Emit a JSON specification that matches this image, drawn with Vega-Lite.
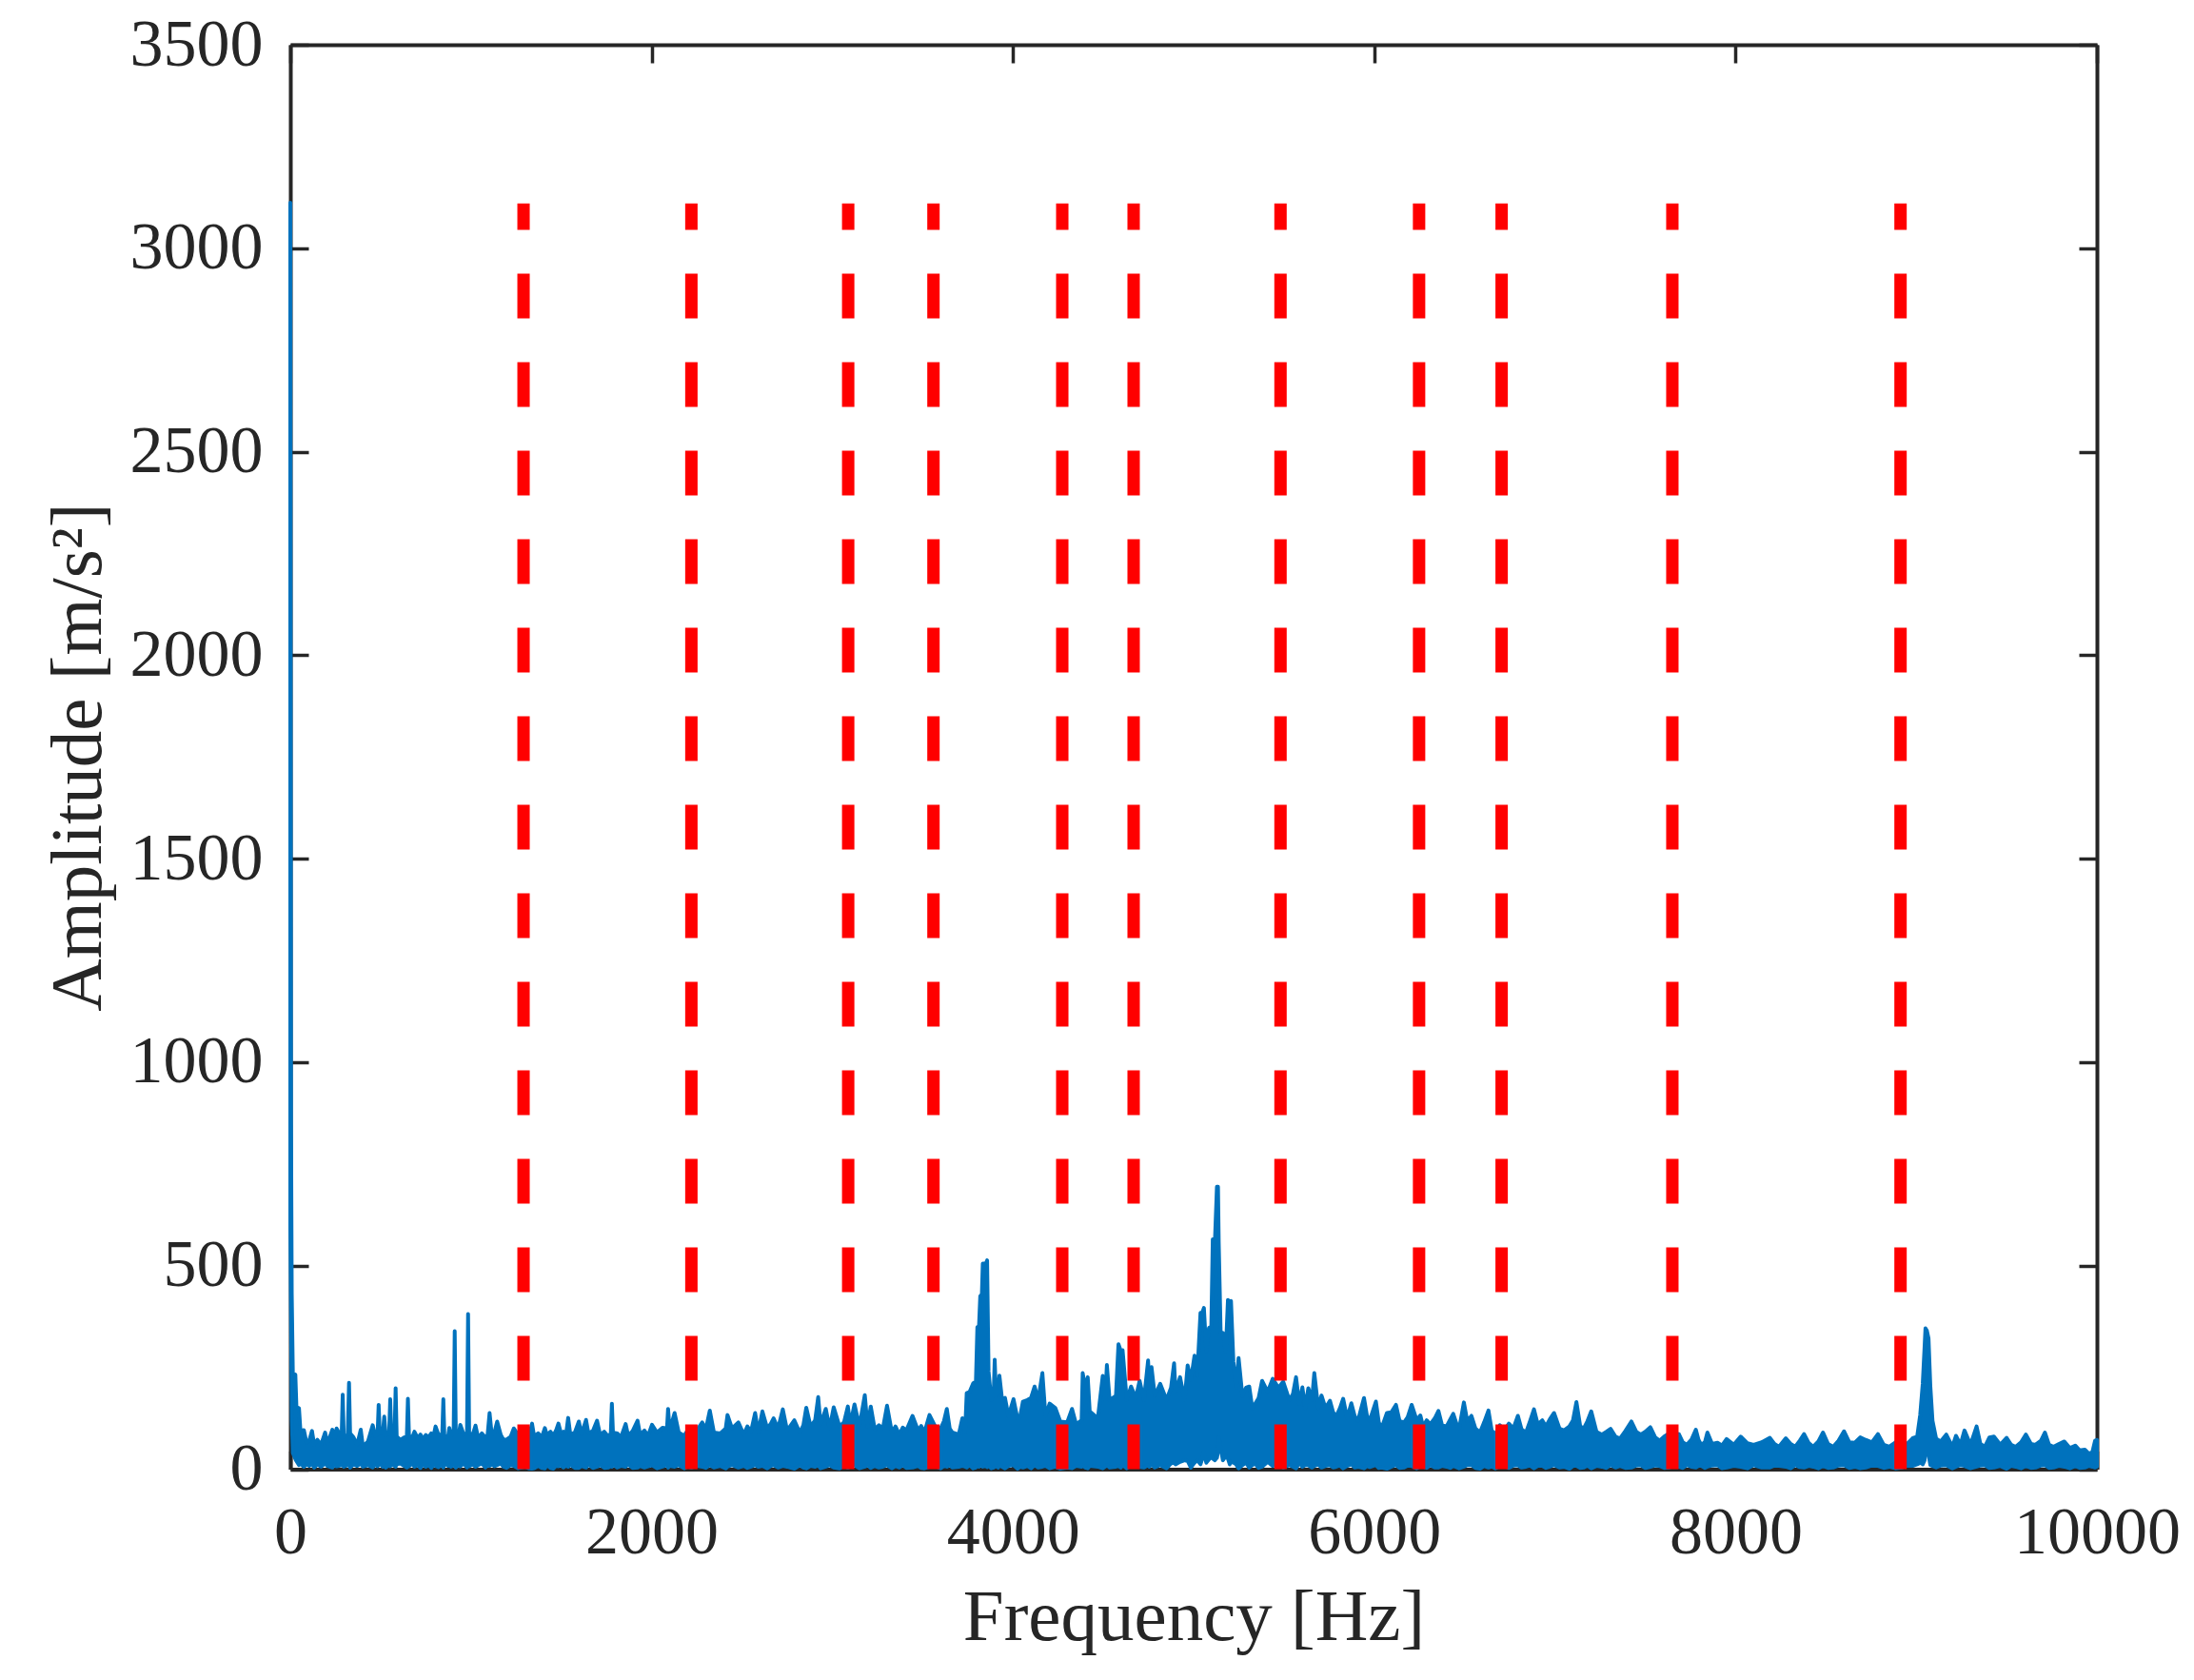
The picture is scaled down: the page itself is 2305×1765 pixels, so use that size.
{"$schema":"https://vega.github.io/schema/vega-lite/v6.json","width":1898,"height":1496.5,"autosize":{"type":"none"},"padding":{"left":305,"top":47,"right":102,"bottom":221.5},"background":"white","config":{"view":{"stroke":null},"axis":{"grid":false,"domainColor":"#262626","domainWidth":4,"tickColor":"#262626","tickWidth":3.5,"tickSize":-19,"labelFont":"Liberation Serif","titleFont":"Liberation Serif","labelFontSize":70,"titleFontSize":77,"labelColor":"#262626","titleColor":"#262626","titleFontWeight":"normal","labelFlush":false,"labelOverlap":false,"labelLimit":400,"format":"d"}},"layer":[{"data":{"values":[{"f":0,"h":3112,"l":600},{"f":4,"h":860,"l":380},{"f":8,"h":430,"l":120},{"f":14,"h":236,"l":40},{"f":28,"h":232,"l":25},{"f":34,"h":152,"l":20},{"f":48,"h":150,"l":10},{"f":56,"h":95,"l":14},{"f":75,"h":96,"l":6},{"f":90,"h":65,"l":12},{"f":105,"h":70,"l":8},{"f":120,"h":94,"l":14},{"f":132,"h":60,"l":4},{"f":150,"h":72,"l":12},{"f":170,"h":60,"l":6},{"f":193,"h":90,"l":14},{"f":205,"h":62,"l":8},{"f":233,"h":97,"l":4},{"f":245,"h":70,"l":12},{"f":256,"h":100,"l":7},{"f":284,"h":78,"l":10},{"f":290,"h":183,"l":12},{"f":296,"h":80,"l":6},{"f":318,"h":85,"l":10},{"f":325,"h":212,"l":14},{"f":331,"h":88,"l":4},{"f":350,"h":78,"l":12},{"f":370,"h":60,"l":8},{"f":390,"h":97,"l":14},{"f":402,"h":55,"l":6},{"f":430,"h":68,"l":10},{"f":456,"h":108,"l":4},{"f":470,"h":82,"l":12},{"f":483,"h":85,"l":7},{"f":489,"h":158,"l":10},{"f":495,"h":90,"l":14},{"f":512,"h":88,"l":6},{"f":520,"h":129,"l":12},{"f":528,"h":84,"l":4},{"f":547,"h":88,"l":10},{"f":553,"h":172,"l":7},{"f":559,"h":85,"l":12},{"f":577,"h":86,"l":8},{"f":583,"h":199,"l":6},{"f":589,"h":80,"l":12},{"f":610,"h":72,"l":14},{"f":630,"h":78,"l":8},{"f":645,"h":80,"l":4},{"f":651,"h":173,"l":12},{"f":657,"h":82,"l":7},{"f":675,"h":78,"l":14},{"f":687,"h":92,"l":6},{"f":705,"h":76,"l":10},{"f":720,"h":85,"l":3},{"f":735,"h":74,"l":12},{"f":750,"h":84,"l":6},{"f":765,"h":78,"l":10},{"f":780,"h":88,"l":3},{"f":792,"h":80,"l":10},{"f":804,"h":105,"l":8},{"f":820,"h":85,"l":5},{"f":841,"h":85,"l":12},{"f":847,"h":172,"l":4},{"f":853,"h":78,"l":14},{"f":874,"h":82,"l":8},{"f":880,"h":101,"l":10},{"f":890,"h":84,"l":6},{"f":904,"h":86,"l":10},{"f":910,"h":339,"l":8},{"f":916,"h":88,"l":4},{"f":935,"h":92,"l":12},{"f":941,"h":109,"l":7},{"f":960,"h":85,"l":14},{"f":978,"h":88,"l":4},{"f":984,"h":381,"l":10},{"f":990,"h":88,"l":7},{"f":1010,"h":85,"l":12},{"f":1025,"h":107,"l":6},{"f":1040,"h":76,"l":10},{"f":1060,"h":88,"l":14},{"f":1080,"h":78,"l":4},{"f":1092,"h":84,"l":10},{"f":1103,"h":138,"l":8},{"f":1115,"h":85,"l":12},{"f":1130,"h":90,"l":7},{"f":1145,"h":117,"l":10},{"f":1165,"h":84,"l":14},{"f":1180,"h":72,"l":6},{"f":1197,"h":73,"l":3},{"f":1220,"h":80,"l":10},{"f":1237,"h":100,"l":8},{"f":1260,"h":85,"l":2},{"f":1300,"h":92,"l":6},{"f":1320,"h":78,"l":2},{"f":1338,"h":112,"l":1},{"f":1350,"h":80,"l":2},{"f":1372,"h":88,"l":8},{"f":1392,"h":78,"l":3},{"f":1409,"h":101,"l":2},{"f":1420,"h":84,"l":10},{"f":1440,"h":92,"l":3},{"f":1455,"h":82,"l":1},{"f":1470,"h":94,"l":8},{"f":1484,"h":112,"l":7},{"f":1498,"h":88,"l":10},{"f":1512,"h":92,"l":4},{"f":1526,"h":84,"l":9},{"f":1538,"h":126,"l":6},{"f":1550,"h":85,"l":11},{"f":1575,"h":90,"l":3},{"f":1597,"h":117,"l":3},{"f":1612,"h":86,"l":8},{"f":1637,"h":121,"l":4},{"f":1650,"h":88,"l":12},{"f":1675,"h":94,"l":3},{"f":1698,"h":119,"l":6},{"f":1715,"h":84,"l":10},{"f":1738,"h":92,"l":3},{"f":1760,"h":80,"l":4},{"f":1774,"h":88,"l":8},{"f":1780,"h":161,"l":6},{"f":1786,"h":90,"l":12},{"f":1810,"h":88,"l":4},{"f":1830,"h":78,"l":8},{"f":1856,"h":111,"l":6},{"f":1870,"h":82,"l":12},{"f":1895,"h":94,"l":3},{"f":1922,"h":119,"l":4},{"f":1936,"h":85,"l":8},{"f":1960,"h":95,"l":4},{"f":1980,"h":82,"l":7},{"f":2002,"h":109,"l":10},{"f":2030,"h":90,"l":2},{"f":2060,"h":102,"l":6},{"f":2085,"h":100,"l":10},{"f":2091,"h":148,"l":4},{"f":2100,"h":95,"l":8},{"f":2127,"h":138,"l":6},{"f":2150,"h":90,"l":10},{"f":2180,"h":82,"l":2},{"f":2200,"h":96,"l":7},{"f":2220,"h":90,"l":4},{"f":2250,"h":95,"l":8},{"f":2280,"h":115,"l":6},{"f":2300,"h":98,"l":3},{"f":2322,"h":144,"l":10},{"f":2345,"h":90,"l":4},{"f":2380,"h":88,"l":8},{"f":2410,"h":100,"l":2},{"f":2420,"h":133,"l":6},{"f":2445,"h":100,"l":10},{"f":2480,"h":115,"l":4},{"f":2510,"h":85,"l":8},{"f":2530,"h":105,"l":3},{"f":2550,"h":92,"l":6},{"f":2573,"h":138,"l":10},{"f":2590,"h":90,"l":6},{"f":2613,"h":142,"l":8},{"f":2640,"h":100,"l":2},{"f":2660,"h":112,"l":8},{"f":2675,"h":125,"l":10},{"f":2700,"h":100,"l":4},{"f":2726,"h":147,"l":8},{"f":2750,"h":95,"l":6},{"f":2790,"h":120,"l":1},{"f":2820,"h":90,"l":10},{"f":2840,"h":108,"l":4},{"f":2856,"h":151,"l":2},{"f":2880,"h":105,"l":8},{"f":2905,"h":120,"l":6},{"f":2922,"h":177,"l":10},{"f":2935,"h":110,"l":2},{"f":2964,"h":148,"l":6},{"f":2985,"h":100,"l":10},{"f":3008,"h":152,"l":4},{"f":3040,"h":105,"l":2},{"f":3065,"h":115,"l":8},{"f":3086,"h":154,"l":4},{"f":3100,"h":110,"l":6},{"f":3123,"h":159,"l":10},{"f":3150,"h":105,"l":2},{"f":3180,"h":182,"l":6},{"f":3195,"h":105,"l":10},{"f":3213,"h":154,"l":3},{"f":3235,"h":98,"l":8},{"f":3258,"h":108,"l":4},{"f":3280,"h":100,"l":6},{"f":3303,"h":156,"l":10},{"f":3330,"h":90,"l":2},{"f":3350,"h":105,"l":8},{"f":3370,"h":85,"l":4},{"f":3390,"h":102,"l":10},{"f":3410,"h":95,"l":3},{"f":3444,"h":131,"l":4},{"f":3475,"h":95,"l":8},{"f":3492,"h":106,"l":3},{"f":3510,"h":90,"l":2},{"f":3538,"h":133,"l":6},{"f":3570,"h":105,"l":8},{"f":3600,"h":100,"l":2},{"f":3618,"h":118,"l":8},{"f":3634,"h":148,"l":6},{"f":3650,"h":100,"l":10},{"f":3665,"h":90,"l":4},{"f":3700,"h":85,"l":6},{"f":3720,"h":125,"l":8},{"f":3735,"h":90,"l":6},{"f":3744,"h":187,"l":4},{"f":3760,"h":190,"l":10},{"f":3780,"h":211,"l":2},{"f":3795,"h":215,"l":4},{"f":3803,"h":349,"l":8},{"f":3812,"h":350,"l":6},{"f":3819,"h":425,"l":10},{"f":3828,"h":430,"l":12},{"f":3833,"h":505,"l":6},{"f":3850,"h":505,"l":8},{"f":3857,"h":513,"l":5},{"f":3865,"h":240,"l":10},{"f":3880,"h":170,"l":2},{"f":3893,"h":180,"l":4},{"f":3899,"h":269,"l":6},{"f":3906,"h":180,"l":8},{"f":3918,"h":190,"l":4},{"f":3925,"h":230,"l":10},{"f":3940,"h":170,"l":6},{"f":3956,"h":175,"l":2},{"f":3975,"h":130,"l":8},{"f":4003,"h":172,"l":10},{"f":4025,"h":125,"l":1},{"f":4040,"h":130,"l":6},{"f":4055,"h":166,"l":4},{"f":4080,"h":170,"l":8},{"f":4100,"h":175,"l":2},{"f":4120,"h":203,"l":10},{"f":4140,"h":170,"l":4},{"f":4163,"h":236,"l":6},{"f":4180,"h":130,"l":8},{"f":4203,"h":161,"l":2},{"f":4235,"h":150,"l":6},{"f":4262,"h":117,"l":1},{"f":4300,"h":115,"l":4},{"f":4327,"h":148,"l":2},{"f":4350,"h":110,"l":8},{"f":4380,"h":120,"l":6},{"f":4386,"h":236,"l":10},{"f":4400,"h":200,"l":4},{"f":4414,"h":226,"l":2},{"f":4425,"h":142,"l":8},{"f":4470,"h":125,"l":6},{"f":4497,"h":229,"l":2},{"f":4510,"h":170,"l":6},{"f":4520,"h":256,"l":10},{"f":4535,"h":170,"l":4},{"f":4570,"h":180,"l":6},{"f":4584,"h":307,"l":8},{"f":4597,"h":290,"l":4},{"f":4607,"h":292,"l":10},{"f":4630,"h":170,"l":2},{"f":4654,"h":203,"l":12},{"f":4680,"h":175,"l":8},{"f":4701,"h":217,"l":6},{"f":4725,"h":170,"l":4},{"f":4748,"h":267,"l":10},{"f":4755,"h":200,"l":6},{"f":4767,"h":251,"l":12},{"f":4785,"h":180,"l":4},{"f":4815,"h":210,"l":10},{"f":4850,"h":170,"l":2},{"f":4875,"h":200,"l":14},{"f":4892,"h":260,"l":16},{"f":4900,"h":190,"l":12},{"f":4925,"h":226,"l":18},{"f":4950,"h":170,"l":22},{"f":4967,"h":255,"l":20},{"f":4985,"h":220,"l":4},{"f":5005,"h":279,"l":16},{"f":5020,"h":230,"l":22},{"f":5038,"h":384,"l":12},{"f":5048,"h":385,"l":26},{"f":5057,"h":396,"l":42},{"f":5070,"h":290,"l":16},{"f":5085,"h":347,"l":24},{"f":5098,"h":350,"l":32},{"f":5106,"h":565,"l":26},{"f":5118,"h":560,"l":22},{"f":5129,"h":694,"l":28},{"f":5135,"h":694,"l":42},{"f":5139,"h":558,"l":78},{"f":5150,"h":330,"l":52},{"f":5162,"h":335,"l":22},{"f":5178,"h":290,"l":32},{"f":5190,"h":416,"l":26},{"f":5200,"h":410,"l":12},{"f":5207,"h":413,"l":18},{"f":5220,"h":265,"l":16},{"f":5235,"h":200,"l":12},{"f":5249,"h":273,"l":2},{"f":5270,"h":180,"l":10},{"f":5290,"h":200,"l":16},{"f":5308,"h":203,"l":4},{"f":5325,"h":150,"l":10},{"f":5340,"h":160,"l":14},{"f":5360,"h":175,"l":3},{"f":5379,"h":217,"l":6},{"f":5410,"h":190,"l":18},{"f":5438,"h":222,"l":8},{"f":5470,"h":200,"l":12},{"f":5496,"h":215,"l":4},{"f":5530,"h":170,"l":10},{"f":5550,"h":185,"l":6},{"f":5567,"h":226,"l":2},{"f":5585,"h":160,"l":16},{"f":5602,"h":201,"l":6},{"f":5618,"h":150,"l":10},{"f":5635,"h":199,"l":10},{"f":5655,"h":170,"l":4},{"f":5668,"h":236,"l":8},{"f":5690,"h":150,"l":12},{"f":5708,"h":181,"l":4},{"f":5730,"h":150,"l":8},{"f":5755,"h":168,"l":10},{"f":5772,"h":140,"l":4},{"f":5790,"h":130,"l":6},{"f":5810,"h":150,"l":9},{"f":5828,"h":173,"l":2},{"f":5850,"h":125,"l":8},{"f":5873,"h":162,"l":12},{"f":5892,"h":130,"l":4},{"f":5910,"h":120,"l":6},{"f":5943,"h":175,"l":2},{"f":5960,"h":130,"l":8},{"f":5975,"h":120,"l":5},{"f":6009,"h":166,"l":10},{"f":6025,"h":115,"l":3},{"f":6040,"h":100,"l":4},{"f":6070,"h":138,"l":1},{"f":6095,"h":140,"l":6},{"f":6120,"h":158,"l":10},{"f":6140,"h":118,"l":3},{"f":6165,"h":115,"l":4},{"f":6185,"h":128,"l":9},{"f":6207,"h":158,"l":8},{"f":6235,"h":120,"l":2},{"f":6255,"h":132,"l":8},{"f":6270,"h":105,"l":6},{"f":6290,"h":120,"l":3},{"f":6310,"h":110,"l":10},{"f":6335,"h":125,"l":4},{"f":6355,"h":143,"l":4},{"f":6375,"h":108,"l":8},{"f":6400,"h":105,"l":6},{"f":6420,"h":122,"l":3},{"f":6437,"h":136,"l":8},{"f":6455,"h":112,"l":5},{"f":6470,"h":100,"l":2},{"f":6496,"h":164,"l":6},{"f":6515,"h":118,"l":10},{"f":6538,"h":131,"l":10},{"f":6560,"h":100,"l":3},{"f":6585,"h":90,"l":1},{"f":6608,"h":115,"l":8},{"f":6632,"h":144,"l":4},{"f":6650,"h":95,"l":7},{"f":6670,"h":85,"l":2},{"f":6695,"h":108,"l":8},{"f":6720,"h":95,"l":8},{"f":6745,"h":112,"l":3},{"f":6770,"h":100,"l":9},{"f":6795,"h":131,"l":10},{"f":6815,"h":98,"l":4},{"f":6840,"h":90,"l":6},{"f":6862,"h":118,"l":9},{"f":6884,"h":147,"l":2},{"f":6905,"h":110,"l":8},{"f":6930,"h":120,"l":8},{"f":6950,"h":105,"l":3},{"f":6975,"h":125,"l":7},{"f":6995,"h":138,"l":10},{"f":7025,"h":100,"l":4},{"f":7050,"h":95,"l":6},{"f":7080,"h":105,"l":1},{"f":7100,"h":120,"l":8},{"f":7119,"h":165,"l":8},{"f":7140,"h":105,"l":3},{"f":7160,"h":100,"l":4},{"f":7180,"h":118,"l":9},{"f":7201,"h":142,"l":2},{"f":7230,"h":92,"l":8},{"f":7260,"h":85,"l":6},{"f":7285,"h":92,"l":3},{"f":7308,"h":99,"l":10},{"f":7335,"h":80,"l":4},{"f":7360,"h":75,"l":8},{"f":7390,"h":94,"l":3},{"f":7423,"h":117,"l":4},{"f":7450,"h":92,"l":9},{"f":7475,"h":85,"l":10},{"f":7500,"h":92,"l":3},{"f":7528,"h":103,"l":6},{"f":7555,"h":78,"l":9},{"f":7580,"h":70,"l":8},{"f":7605,"h":80,"l":3},{"f":7630,"h":87,"l":4},{"f":7660,"h":70,"l":8},{"f":7686,"h":86,"l":6},{"f":7708,"h":66,"l":3},{"f":7730,"h":60,"l":10},{"f":7755,"h":72,"l":6},{"f":7780,"h":97,"l":4},{"f":7795,"h":72,"l":8},{"f":7810,"h":60,"l":8},{"f":7830,"h":66,"l":3},{"f":7844,"h":90,"l":6},{"f":7870,"h":62,"l":9},{"f":7900,"h":65,"l":10},{"f":7925,"h":58,"l":2},{"f":7950,"h":74,"l":4},{"f":7990,"h":60,"l":8},{"f":8028,"h":80,"l":6},{"f":8065,"h":64,"l":2},{"f":8100,"h":60,"l":10},{"f":8145,"h":66,"l":4},{"f":8190,"h":77,"l":4},{"f":8215,"h":62,"l":9},{"f":8240,"h":55,"l":8},{"f":8278,"h":76,"l":6},{"f":8305,"h":62,"l":2},{"f":8330,"h":55,"l":10},{"f":8355,"h":70,"l":5},{"f":8379,"h":86,"l":4},{"f":8405,"h":64,"l":8},{"f":8430,"h":55,"l":6},{"f":8458,"h":68,"l":2},{"f":8484,"h":90,"l":8},{"f":8512,"h":62,"l":3},{"f":8540,"h":55,"l":4},{"f":8570,"h":70,"l":9},{"f":8600,"h":93,"l":10},{"f":8630,"h":66,"l":3},{"f":8660,"h":65,"l":6},{"f":8690,"h":78,"l":2},{"f":8720,"h":72,"l":4},{"f":8755,"h":66,"l":9},{"f":8788,"h":86,"l":8},{"f":8820,"h":60,"l":3},{"f":8850,"h":55,"l":6},{"f":8885,"h":66,"l":2},{"f":8920,"h":70,"l":4},{"f":8950,"h":62,"l":9},{"f":8980,"h":76,"l":8},{"f":9005,"h":80,"l":12},{"f":9022,"h":134,"l":16},{"f":9036,"h":210,"l":12},{"f":9046,"h":300,"l":22},{"f":9051,"h":346,"l":42},{"f":9059,"h":340,"l":42},{"f":9068,"h":321,"l":36},{"f":9078,"h":204,"l":10},{"f":9090,"h":119,"l":8},{"f":9110,"h":75,"l":4},{"f":9135,"h":68,"l":9},{"f":9166,"h":85,"l":10},{"f":9200,"h":55,"l":2},{"f":9220,"h":82,"l":6},{"f":9245,"h":60,"l":10},{"f":9267,"h":95,"l":8},{"f":9300,"h":60,"l":2},{"f":9334,"h":105,"l":6},{"f":9355,"h":62,"l":9},{"f":9380,"h":55,"l":10},{"f":9405,"h":78,"l":3},{"f":9430,"h":80,"l":4},{"f":9465,"h":60,"l":8},{"f":9500,"h":77,"l":1},{"f":9525,"h":60,"l":8},{"f":9550,"h":55,"l":6},{"f":9580,"h":66,"l":2},{"f":9607,"h":85,"l":8},{"f":9635,"h":62,"l":3},{"f":9660,"h":60,"l":4},{"f":9690,"h":70,"l":9},{"f":9712,"h":90,"l":10},{"f":9735,"h":60,"l":3},{"f":9760,"h":55,"l":4},{"f":9790,"h":62,"l":8},{"f":9820,"h":68,"l":6},{"f":9850,"h":52,"l":2},{"f":9880,"h":58,"l":8},{"f":9905,"h":46,"l":3},{"f":9933,"h":48,"l":4},{"f":9955,"h":38,"l":8},{"f":9975,"h":42,"l":6},{"f":9990,"h":70,"l":4},{"f":10000,"h":72,"l":6}]},"mark":{"type":"area","fill":"#0072BD","stroke":"#0072BD","strokeWidth":4,"strokeJoin":"round","opacity":1},"encoding":{"x":{"field":"f","type":"quantitative","scale":{"domain":[0,10000],"nice":false},"axis":{"orient":"bottom","values":[0,2000,4000,6000,8000,10000],"title":"Frequency [Hz]","labelPadding":52,"titlePadding":16}},"y":{"field":"h","type":"quantitative","scale":{"domain":[0,3500],"nice":false},"axis":{"orient":"left","values":[0,500,1000,1500,2000,2500,3000,3500],"title":"Amplitude [m/s²]","labelPadding":48,"titlePadding":15}},"y2":{"field":"l"}}},{"data":{"values":[{"f":1291,"y0":0,"y1":3110},{"f":2220,"y0":0,"y1":3110},{"f":3088,"y0":0,"y1":3110},{"f":3560,"y0":0,"y1":3110},{"f":4273,"y0":0,"y1":3110},{"f":4668,"y0":0,"y1":3110},{"f":5481,"y0":0,"y1":3110},{"f":6248,"y0":0,"y1":3110},{"f":6705,"y0":0,"y1":3110},{"f":7650,"y0":0,"y1":3110},{"f":8913,"y0":0,"y1":3110}]},"mark":{"type":"rule","color":"#FF0000","strokeWidth":13,"strokeDash":[47,46],"strokeCap":"butt"},"encoding":{"x":{"field":"f","type":"quantitative","scale":{"domain":[0,10000],"nice":false},"axis":{"orient":"top","values":[0,2000,4000,6000,8000,10000],"labels":false,"title":null}},"y":{"field":"y0","type":"quantitative","scale":{"domain":[0,3500],"nice":false},"axis":{"orient":"right","values":[0,500,1000,1500,2000,2500,3000,3500],"labels":false,"title":null}},"y2":{"field":"y1"}}}],"resolve":{"axis":{"x":"independent","y":"independent"}}}
